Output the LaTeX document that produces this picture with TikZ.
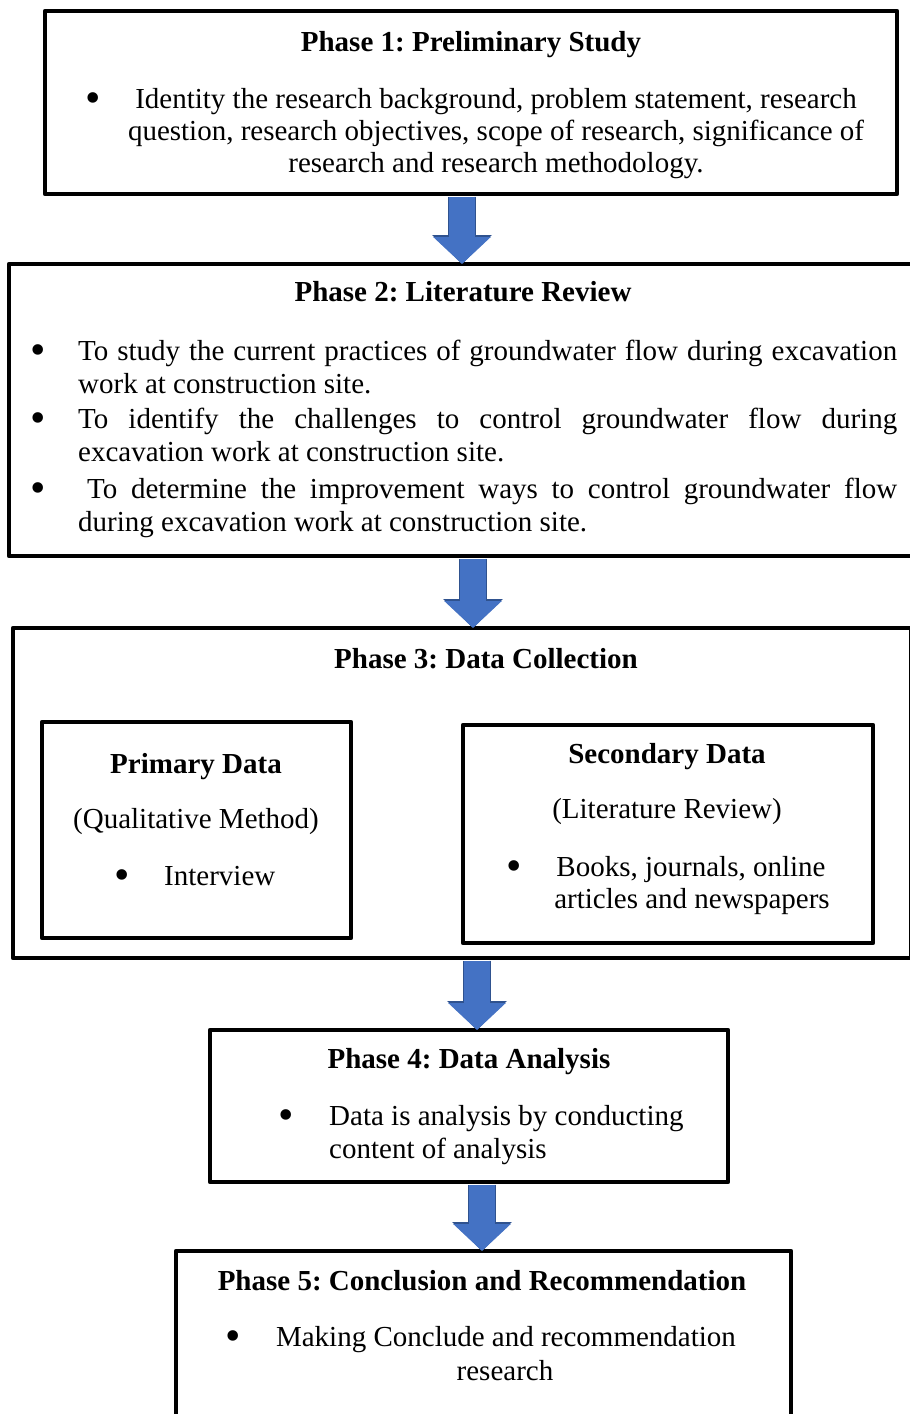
\documentclass[tikz,border=0pt]{standalone}
\usepackage{fontspec}
\setmainfont{Liberation Serif}
\usetikzlibrary{arrows.meta}
\definecolor{arrowblue}{HTML}{4472C4}
\definecolor{arrowedge}{HTML}{2F528F}
\newcommand{\bodysize}{\fontsize{29}{33}\selectfont}
\tikzstyle{phase} = [rectangle, draw=black, line width=4.5pt, outer sep=0pt, line join=round]
\tikzstyle{heading} = [font=\bodysize\bfseries, anchor=base, inner sep=0pt]
\tikzstyle{txt} = [anchor=base, inner sep=0pt]
\tikzstyle{txtleft} = [anchor=base west, inner sep=0pt]
\tikzstyle{bul} = [font=\fontsize{44}{44}\selectfont, anchor=base, inner sep=0pt, yshift=-4.5pt]
\tikzstyle{arrow} = [draw=arrowblue, line width=26pt, shorten <=2.5pt, -{Triangle[width=56pt,length=27pt]},
  preaction={draw=arrowedge, line width=28pt, shorten <=2.5pt, -{Triangle[width=58pt,length=29pt]}}]

\begin{document}
\frenchspacing
\begin{tikzpicture}[x=1pt, y=-1pt, font=\bodysize]
        \fill[white] (0,0) rectangle (910,1414);
        \useasboundingbox (0,0) rectangle (910,1414);
        \clip (0,0) rectangle (910,1414);

        % Boxes
        \node (p1) [phase, minimum width=852pt, minimum height=183pt] at (471,102.5) {};
        \node (p2) [phase, minimum width=908pt, minimum height=292pt] at (463,410) {};
        \node (p3) [phase, minimum width=898pt, minimum height=330pt] at (462,793) {};
        \node (primary) [phase, minimum width=309pt, minimum height=216pt] at (196.5,830) {};
        \node (secondary) [phase, minimum width=410pt, minimum height=218pt] at (668,834) {};
        \node (p4) [phase, minimum width=518pt, minimum height=152pt] at (469,1106) {};
        \node (p5) [phase, minimum width=615pt, minimum height=200pt] at (483.5,1351) {};

        % Phase 1
        \node (t1) [heading] at (471,51) {Phase 1: Preliminary Study};
        \node (b1) [bul] at (93,108) {•};
        \node (l1a) [txt] at (496,108) {Identity the research background, problem statement, research};
        \node (l1b) [txt] at (496,140) {question, research objectives, scope of research, significance of};
        \node (l1c) [txt] at (496,172) {research and research methodology.};

        % Phase 2
        \node (t2) [heading] at (463,301) {Phase 2: Literature Review};
        \node (b2a) [bul] at (38,360) {•};
        \node (l2a) [txtleft] at (78,360) {\makebox[819pt][s]{To study the current practices of groundwater flow during excavation}};
        \node (l2b) [txtleft] at (78,393) {work at construction site.};
        \node (b2b) [bul] at (38,428) {•};
        \node (l2c) [txtleft] at (78,428) {\makebox[819pt][s]{To identify the challenges to control groundwater flow during}};
        \node (l2d) [txtleft] at (78,461) {excavation work at construction site.};
        \node (b2c) [bul] at (38,498) {•};
        \node (l2e) [txtleft] at (87,498) {\makebox[810pt][s]{To determine the improvement ways to control groundwater flow}};
        \node (l2f) [txtleft] at (78,531) {during excavation work at construction site.};

        % Phase 3
        \node (t3) [heading] at (486,668) {Phase 3: Data Collection};
        \node (t3a) [heading] at (196,773) {Primary Data};
        \node (l3a) [txt] at (196,828) {(Qualitative Method)};
        \node (b3a) [bul] at (122,885) {•};
        \node (l3b) [txtleft] at (164,885) {Interview};
        \node (t3b) [heading] at (667,763) {Secondary Data};
        \node (l3c) [txt] at (667,818) {(Literature Review)};
        \node (b3b) [bul] at (514,876) {•};
        \node (l3d) [txt] at (691,876) {Books, journals, online};
        \node (l3e) [txt] at (692,908) {articles and newspapers};

        % Phase 4
        \node (t4) [heading] at (469,1068) {Phase 4: Data Analysis};
        \node (b4) [bul] at (286,1125) {•};
        \node (l4a) [txtleft] at (329,1125) {Data is analysis by conducting};
        \node (l4b) [txtleft] at (329,1158) {content of analysis};

        % Phase 5
        \node (t5) [heading] at (482,1290) {Phase 5: Conclusion and Recommendation};
        \node (b5) [bul] at (233,1346) {•};
        \node (l5a) [txt] at (506,1346) {Making Conclude and recommendation};
        \node (l5b) [txt] at (505,1380) {research};

        % Arrows
        \draw [arrow] ([xshift=-9pt]p1.south) -- ([xshift=-9pt]p1.south |- p2.north);
        \draw [arrow] ([xshift=10pt]p2.south) -- ([xshift=10pt]p2.south |- p3.north);
        \draw [arrow] ([xshift=15pt]p3.south) -- ([xshift=15pt]p3.south |- p4.north);
        \draw [arrow] ([xshift=13pt]p4.south) -- ([xshift=13pt]p4.south |- p5.north);
\end{tikzpicture}
\end{document}
